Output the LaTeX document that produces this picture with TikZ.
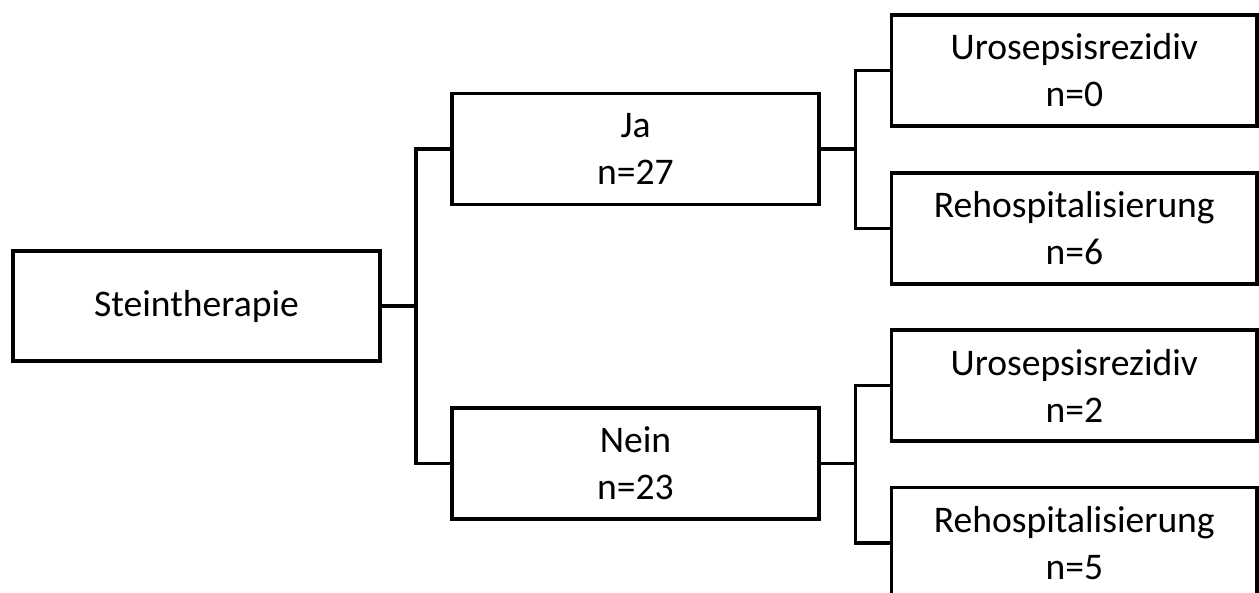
\documentclass[tikz,border=0pt]{standalone}
\usepackage{fontspec}
\setmainfont{Carlito}
\begin{document}
\begin{tikzpicture}[x=1pt,y=-1pt,
  box/.style={draw=black, line width=3.5pt, fill=white, minimum width=367pt, minimum height=111pt,
    inner sep=0pt, align=center, font=\fontsize{37.6pt}{47pt}\selectfont},
  conn/.style={draw=black, line width=3.5pt}]
\useasboundingbox (0,0) rectangle (1259,592);
\clip (0,0) rectangle (1259,592);
\node[box, minimum height=110pt] (st) at (196.5,306) {Steintherapie};
\node[box] (ja) at (635.5,149) {Ja\\n=27};
\node[box] (nein) at (635.5,463.5) {Nein\\n=23};
\node[box, minimum width=365.5pt] (u1) at (1074.3,70.5) {Urosepsisrezidiv\\n=0};
\node[box, minimum width=365.5pt] (r1) at (1074.3,228.5) {Rehospitalisierung\\n=6};
\node[box, minimum width=365.5pt] (u2) at (1074.3,385.5) {Urosepsisrezidiv\\n=2};
\node[box, minimum width=365.5pt] (r2) at (1074.3,543) {Rehospitalisierung\\n=5};
\coordinate (f1) at (416,306);
\coordinate (f2) at (855.7,149);
\coordinate (f3) at (855.7,463.5);
\draw[conn] (st.east) -- (f1);
\draw[conn] (ja.west) -| (f1) |- (nein.west);
\draw[conn] (ja.east) -- (f2);
\draw[conn] (u1.west) -| (f2) |- (r1.west);
\draw[conn] (nein.east) -- (f3);
\draw[conn] (u2.west) -| (f3) |- (r2.west);
\end{tikzpicture}
\end{document}
